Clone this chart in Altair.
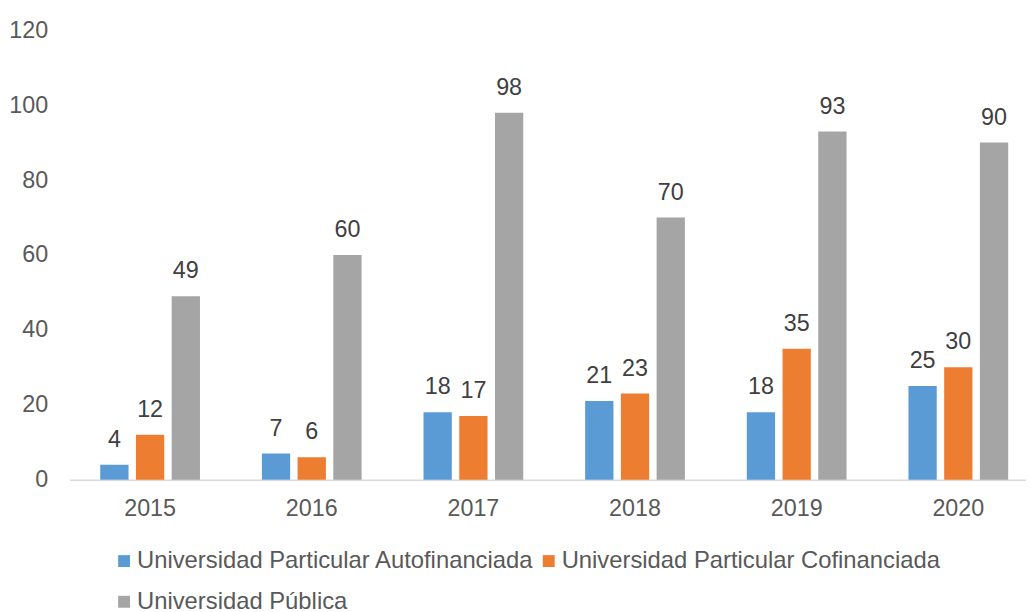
import altair as alt
import pandas as pd

years = ["2015", "2016", "2017", "2018", "2019", "2020"]
series = [
    "Universidad Particular Autofinanciada",
    "Universidad Particular Cofinanciada",
    "Universidad Pública",
]
autofinanciada = [4, 7, 18, 21, 18, 25]
cofinanciada = [12, 6, 17, 23, 35, 30]
publica = [49, 60, 98, 70, 93, 90]
colors = ["#5B9BD5", "#ED7D31", "#A5A5A5"]
y_ticks = [0, 20, 40, 60, 80, 100, 120]

rows = []
for vals, s in zip([autofinanciada, cofinanciada, publica], series):
    for yr, v in zip(years, vals):
        rows.append({"year": yr, "serie": s, "value": v})
df = pd.DataFrame(rows)

FONT = "Liberation Sans"

base = alt.Chart(df).encode(
    x=alt.X(
        "year:N",
        sort=years,
        scale=alt.Scale(range=[0, 977], paddingInner=0.383, paddingOuter=0.19),
        axis=alt.Axis(
            title=None,
            labelAngle=0,
            ticks=False,
            domainColor="#D9D9D9",
            domainWidth=1.5,
            labelPadding=17,
            labelFontSize=23.5,
            labelColor="#595959",
            labelFont=FONT,
        ),
    ),
    xOffset=alt.XOffset(
        "serie:N", sort=series, scale=alt.Scale(paddingInner=0.208, paddingOuter=0)
    ),
    y=alt.Y(
        "value:Q",
        scale=alt.Scale(domain=[0, 120], nice=False),
        axis=alt.Axis(
            title=None,
            values=y_ticks,
            domain=False,
            ticks=False,
            grid=False,
            labelPadding=22,
            labelFontSize=23.5,
            labelColor="#595959",
            labelFont=FONT,
        ),
    ),
)

bars = base.mark_bar().encode(
    color=alt.Color(
        "serie:N",
        sort=series,
        scale=alt.Scale(domain=series, range=colors),
        legend=alt.Legend(
            title=None,
            orient="none",
            legendX=43,
            legendY=523,
            columns=2,
            direction="horizontal",
            symbolType="square",
            symbolSize=144,
            symbolStrokeWidth=0,
            labelFontSize=24,
            labelColor="#595959",
            labelFont=FONT,
            labelOffset=1,
            columnPadding=2,
            rowPadding=17,
            labelLimit=600,
        ),
    )
)

labels = base.mark_text(
    dy=-18, baseline="alphabetic", fontSize=23.5, color="#404040", font=FONT
).encode(text="value:Q")

chart = (
    alt.layer(bars, labels)
    .properties(
        width=964,
        height=453,
        autosize=alt.AutoSizeParams(type="none"),
        padding={"left": 62, "top": 20, "right": 0, "bottom": 145},
    )
    .configure_view(stroke=None)
)

chart.save("out.html", embed_options={"renderer": "svg", "actions": False})
